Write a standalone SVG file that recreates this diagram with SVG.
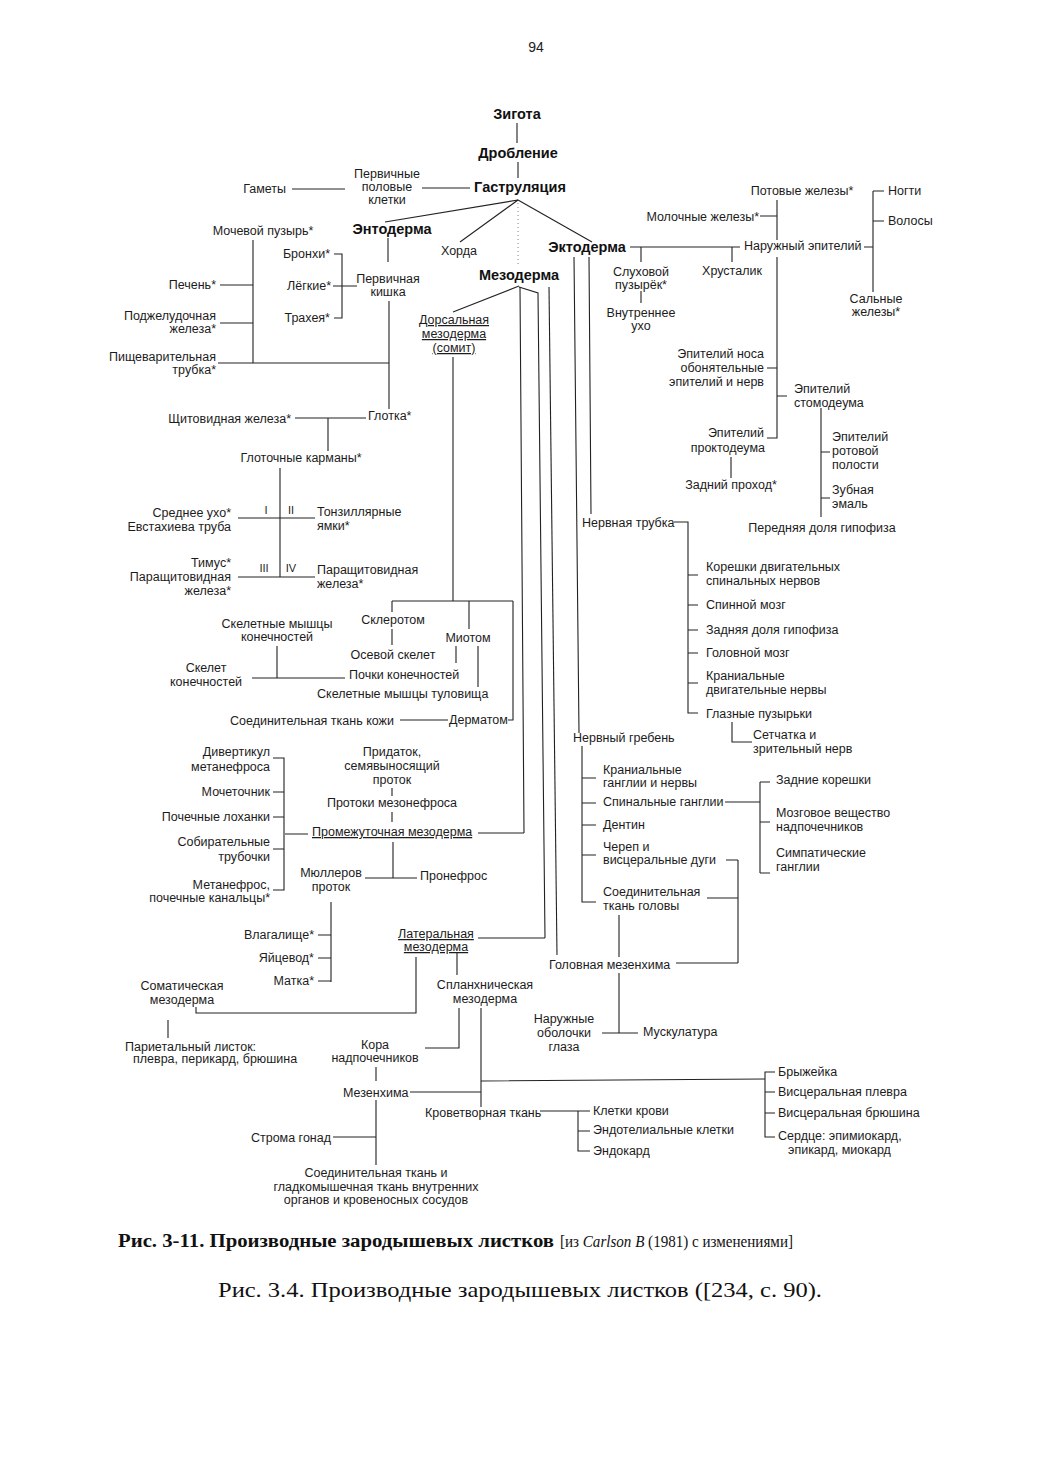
<svg xmlns="http://www.w3.org/2000/svg" width="1040" height="1471" viewBox="0 0 1040 1471">
<style>
text{font-family:"Liberation Sans",Arial,sans-serif;font-size:12.5px;fill:#1c1c1c}
.b{font-weight:bold;font-size:14.5px;fill:#111}
.e{text-anchor:end}.m{text-anchor:middle}
.u{text-decoration:underline}
#conn path{stroke:#222;stroke-width:1.1;fill:none}
.cap{font-family:"Liberation Serif","Times New Roman",serif;fill:#111}
</style>
<rect width="1040" height="1471" fill="#fff"/>
<text x="536" y="52" class="m" style="font-size:14px">94</text>

<g id="conn">
<path d="M517,123V143M518,162V178M292,189H345M422,188H470"/>
<path d="M518,200L385,222M518,200L460,242M518,200L592,242"/>
<path d="M518,203V266" style="stroke-dasharray:1 3;opacity:.5"/>
<path d="M388,238V262M389,301V409M218,363H389M253,240V363M220,285H253M220,323H253"/>
<path d="M334,254H342V318H334M333,286H357"/>
<path d="M295,418H366M328,418V451M280,468V577M238,518H315M238,577H315"/>
<path d="M519,286L453,312M453,357V601"/>
<path d="M520,287L524,833M478,833H524"/>
<path d="M519,287L538,293L545,938M478,938H545"/>
<path d="M549,287L557,955"/>
<path d="M574,257L579,733M589,257L591,514"/>
<path d="M392,601H513M392,601V612M392,629V645M469,601V629M456,646V663M478,646V687M513,601V720H508M400,720H448M277,646V678M252,678H345"/>
<path d="M285,834H308M273,758H284V890H273M273,792H284M273,817H284M273,849H284"/>
<path d="M392,788V796M392,812V822M393,842V878M365,878H417M331,902V982M318,935H331M318,958H331M318,981H331"/>
<path d="M416,957V1013H196V1007M168,1020V1038M457,953V975M459,1008V1048H425M481,1008V1107M481,1081L765,1079M376,1067V1081M410,1092H481M376,1100V1165M333,1137H376"/>
<path d="M540,1111H590M578,1111V1151H590M578,1131H590M775,1072H765V1137H775M765,1092H775M765,1113H775"/>
<path d="M619,915V957M676,963H738M738,860V963M726,860H738M707,898H738M619,973V1033M602,1033H638"/>
<path d="M582,746V902H596M582,778H596M582,803H596M582,825H596M582,855H596M725,802H760M760,782V873M760,782H770M760,822H770M760,873H770"/>
<path d="M674,522H688V713H698M688,575H698M688,605H698M688,630H698M688,653H698M688,683H698M732,722V742H752"/>
<path d="M630,247H740M641,247V262M641,291V303M732,247V262M777,200V240M777,257V438H767M760,216H777M767,368H777M777,396H787M864,247H873M873,191V292M873,191H884M873,221H884M821,408V517M821,452H830M821,498H830M731,457V478"/>
</g>

<g id="n-zigota"><text x="517" y="119" class="b m">Зигота</text></g>
<g id="n-droblenie"><text x="518" y="158" class="b m">Дробление</text></g>
<g id="n-gastrulyaciya"><text x="520" y="192" class="b m">Гаструляция</text></g>
<g id="n-pervichnye"><text x="387" y="178" class="m">Первичные</text><text x="387" y="191" class="m">половые</text><text x="387" y="204" class="m">клетки</text></g>
<g id="n-gamety"><text x="286" y="193" class="e">Гаметы</text></g>
<g id="n-entoderma"><text x="392" y="234" class="b m">Энтодерма</text></g>
<g id="n-horda"><text x="459" y="255" class="m">Хорда</text></g>
<g id="n-ektoderma"><text x="587" y="252" class="b m">Эктодерма</text></g>
<g id="n-mezoderma"><text x="519" y="280" class="b m">Мезодерма</text></g>

<g id="n-potovye"><text x="802" y="195" class="m">Потовые железы*</text></g>
<g id="n-nogti"><text x="888" y="195">Ногти</text></g>
<g id="n-molochnye"><text x="759" y="221" class="e">Молочные железы*</text></g>
<g id="n-volosy"><text x="888" y="225">Волосы</text></g>
<g id="n-naruzhny"><text x="744" y="250">Наружный эпителий</text></g>
<g id="n-sluhovoy"><text x="641" y="276" class="m">Слуховой</text><text x="641" y="289" class="m">пузырёк*</text></g>
<g id="n-hrustalik"><text x="732" y="275" class="m">Хрусталик</text></g>
<g id="n-vnutrennee"><text x="641" y="317" class="m">Внутреннее</text><text x="641" y="330" class="m">ухо</text></g>
<g id="n-salnye"><text x="876" y="303" class="m">Сальные</text><text x="876" y="316" class="m">железы*</text></g>
<g id="n-nos"><text x="764" y="358" class="e">Эпителий носа</text><text x="764" y="372" class="e">обонятельные</text><text x="764" y="386" class="e">эпителий и нерв</text></g>
<g id="n-stomodeum"><text x="794" y="393">Эпителий</text><text x="794" y="407">стомодеума</text></g>
<g id="n-proktodeum"><text x="764" y="437" class="e">Эпителий</text><text x="765" y="452" class="e">проктодеума</text></g>
<g id="n-rotovoy"><text x="832" y="441">Эпителий</text><text x="832" y="455">ротовой</text><text x="832" y="469">полости</text></g>
<g id="n-zadniy"><text x="731" y="489" class="m">Задний проход*</text></g>
<g id="n-emal"><text x="832" y="494">Зубная</text><text x="832" y="508">эмаль</text></g>
<g id="n-perednyaya"><text x="822" y="532" class="m">Передняя доля гипофиза</text></g>
<g id="n-nervtrub"><text x="582" y="527">Нервная трубка</text></g>
<g id="n-koreshki-dv"><text x="706" y="571">Корешки двигательных</text><text x="706" y="585">спинальных нервов</text></g>
<g id="n-spinnoy"><text x="706" y="609">Спинной мозг</text></g>
<g id="n-zadnyaya"><text x="706" y="634">Задняя доля гипофиза</text></g>
<g id="n-golovnoy"><text x="706" y="657">Головной мозг</text></g>
<g id="n-kran-dv"><text x="706" y="680">Краниальные</text><text x="706" y="694">двигательные нервы</text></g>
<g id="n-glaznye"><text x="706" y="718">Глазные пузырьки</text></g>
<g id="n-setchatka"><text x="753" y="739">Сетчатка и</text><text x="753" y="753">зрительный нерв</text></g>
<g id="n-greben"><text x="573" y="742">Нервный гребень</text></g>
<g id="n-kran-gangl"><text x="603" y="774">Краниальные</text><text x="603" y="787">ганглии и нервы</text></g>
<g id="n-spin-gangl"><text x="603" y="806">Спинальные ганглии</text></g>
<g id="n-dentin"><text x="603" y="829">Дентин</text></g>
<g id="n-cherep"><text x="603" y="851">Череп и</text><text x="603" y="864">висцеральные дуги</text></g>
<g id="n-soed-gol"><text x="603" y="896">Соединительная</text><text x="603" y="910">ткань головы</text></g>
<g id="n-zad-kor"><text x="776" y="784">Задние корешки</text></g>
<g id="n-mozg-vesh"><text x="776" y="817">Мозговое вещество</text><text x="776" y="831">надпочечников</text></g>
<g id="n-simpat"><text x="776" y="857">Симпатические</text><text x="776" y="871">ганглии</text></g>
<g id="n-gol-mez"><text x="549" y="969">Головная мезенхима</text></g>
<g id="n-obolochki"><text x="564" y="1023" class="m">Наружные</text><text x="564" y="1037" class="m">оболочки</text><text x="564" y="1051" class="m">глаза</text></g>
<g id="n-muskul"><text x="643" y="1036">Мускулатура</text></g>

<g id="n-mochevoy"><text x="263" y="235" class="m">Мочевой пузырь*</text></g>
<g id="n-bronhi"><text x="330" y="258" class="e">Бронхи*</text></g>
<g id="n-pechen"><text x="216" y="289" class="e">Печень*</text></g>
<g id="n-legkie"><text x="331" y="290" class="e">Лёгкие*</text></g>
<g id="n-kishka"><text x="388" y="283" class="m">Первичная</text><text x="388" y="296" class="m">кишка</text></g>
<g id="n-traheya"><text x="330" y="322" class="e">Трахея*</text></g>
<g id="n-podzhel"><text x="216" y="320" class="e">Поджелудочная</text><text x="216" y="333" class="e">железа*</text></g>
<g id="n-pishev"><text x="216" y="361" class="e">Пищеварительная</text><text x="216" y="374" class="e">трубка*</text></g>
<g id="n-shitov"><text x="291" y="423" class="e">Щитовидная железа*</text></g>
<g id="n-glotka"><text x="368" y="420">Глотка*</text></g>
<g id="n-karmany"><text x="301" y="462" class="m">Глоточные карманы*</text></g>
<g id="n-roman"><text x="266" y="514" class="m" style="font-size:11px">I</text><text x="291" y="514" class="m" style="font-size:11px">II</text><text x="264" y="572" class="m" style="font-size:11px">III</text><text x="291" y="572" class="m" style="font-size:11px">IV</text></g>
<g id="n-srednee"><text x="231" y="517" class="e">Среднее ухо*</text><text x="231" y="531" class="e">Евстахиева труба</text></g>
<g id="n-tonzil"><text x="317" y="516">Тонзиллярные</text><text x="317" y="530">ямки*</text></g>
<g id="n-timus"><text x="231" y="567" class="e">Тимус*</text><text x="231" y="581" class="e">Паращитовидная</text><text x="231" y="595" class="e">железа*</text></g>
<g id="n-parashit"><text x="317" y="574">Паращитовидная</text><text x="317" y="588">железа*</text></g>

<g id="n-dorsal"><text x="454" y="324" class="m u">Дорсальная</text><text x="454" y="338" class="m u">мезодерма</text><text x="454" y="352" class="m u">(сомит)</text></g>
<g id="n-sklerotom"><text x="393" y="624" class="m">Склеротом</text></g>
<g id="n-skel-mysh-kon"><text x="277" y="628" class="m">Скелетные мышцы</text><text x="277" y="641" class="m">конечностей</text></g>
<g id="n-miotom"><text x="468" y="642" class="m">Миотом</text></g>
<g id="n-osevoy"><text x="393" y="659" class="m">Осевой скелет</text></g>
<g id="n-skelet-kon"><text x="206" y="672" class="m">Скелет</text><text x="206" y="686" class="m">конечностей</text></g>
<g id="n-pochki-kon"><text x="349" y="679">Почки конечностей</text></g>
<g id="n-skel-tul"><text x="317" y="698">Скелетные мышцы туловища</text></g>
<g id="n-soed-kozhi"><text x="230" y="725">Соединительная ткань кожи</text></g>
<g id="n-dermatom"><text x="449" y="724">Дерматом</text></g>
<g id="n-divert"><text x="270" y="756" class="e">Дивертикул</text><text x="270" y="771" class="e">метанефроса</text></g>
<g id="n-pridatok"><text x="392" y="756" class="m">Придаток,</text><text x="392" y="770" class="m">семявыносящий</text><text x="392" y="784" class="m">проток</text></g>
<g id="n-mochetochnik"><text x="270" y="796" class="e">Мочеточник</text></g>
<g id="n-protoki"><text x="392" y="807" class="m">Протоки мезонефроса</text></g>
<g id="n-lohanki"><text x="270" y="821" class="e">Почечные лоханки</text></g>
<g id="n-promezh"><text x="312" y="836" class="u">Промежуточная мезодерма</text></g>
<g id="n-sobirat"><text x="270" y="846" class="e">Собирательные</text><text x="270" y="861" class="e">трубочки</text></g>
<g id="n-myullerov"><text x="331" y="877" class="m">Мюллеров</text><text x="331" y="891" class="m">проток</text></g>
<g id="n-pronefros"><text x="420" y="880">Пронефрос</text></g>
<g id="n-metanefros"><text x="270" y="889" class="e">Метанефрос,</text><text x="270" y="902" class="e">почечные канальцы*</text></g>
<g id="n-vlagalishe"><text x="314" y="939" class="e">Влагалище*</text></g>
<g id="n-lateral"><text x="436" y="938" class="m u">Латеральная</text><text x="436" y="951" class="m u">мезодерма</text></g>
<g id="n-yaicevod"><text x="314" y="962" class="e">Яйцевод*</text></g>
<g id="n-matka"><text x="314" y="985" class="e">Матка*</text></g>
<g id="n-somat"><text x="182" y="990" class="m">Соматическая</text><text x="182" y="1004" class="m">мезодерма</text></g>
<g id="n-splanh"><text x="485" y="989" class="m">Спланхническая</text><text x="485" y="1003" class="m">мезодерма</text></g>
<g id="n-pariet"><text x="125" y="1051">Париетальный листок:</text><text x="133" y="1063">плевра, перикард, брюшина</text></g>
<g id="n-kora"><text x="375" y="1049" class="m">Кора</text><text x="375" y="1062" class="m">надпочечников</text></g>
<g id="n-mezenhima"><text x="343" y="1097">Мезенхима</text></g>
<g id="n-bryzheyka"><text x="778" y="1076">Брыжейка</text></g>
<g id="n-visc-plevra"><text x="778" y="1096">Висцеральная плевра</text></g>
<g id="n-krovetv"><text x="425" y="1117">Кроветворная ткань</text></g>
<g id="n-kletki-krovi"><text x="593" y="1115">Клетки крови</text></g>
<g id="n-visc-br"><text x="778" y="1117">Висцеральная брюшина</text></g>
<g id="n-endotel"><text x="593" y="1134">Эндотелиальные клетки</text></g>
<g id="n-serdce"><text x="778" y="1140">Сердце: эпимиокард,</text><text x="788" y="1154">эпикард, миокард</text></g>
<g id="n-stroma"><text x="331" y="1142" class="e">Строма гонад</text></g>
<g id="n-endokard"><text x="593" y="1155">Эндокард</text></g>
<g id="n-soed-vnutr"><text x="376" y="1177" class="m">Соединительная ткань и</text><text x="376" y="1191" class="m">гладкомышечная ткань внутренних</text><text x="376" y="1204" class="m">органов и кровеносных сосудов</text></g>

<g id="caption">
<text x="118" y="1247" class="cap" style="font-size:18px;font-weight:bold" textLength="436" lengthAdjust="spacingAndGlyphs">Рис. 3-11. Производные зародышевых листков</text>
<text x="560" y="1247" class="cap" style="font-size:16px" textLength="233" lengthAdjust="spacingAndGlyphs">[из <tspan font-style="italic">Carlson B</tspan> (1981) с изменениями]</text>
<text x="520" y="1297" class="cap m" style="font-size:21px" textLength="604" lengthAdjust="spacingAndGlyphs">Рис. 3.4. Производные зародышевых листков ([234, с. 90).</text>
</g>
</svg>
